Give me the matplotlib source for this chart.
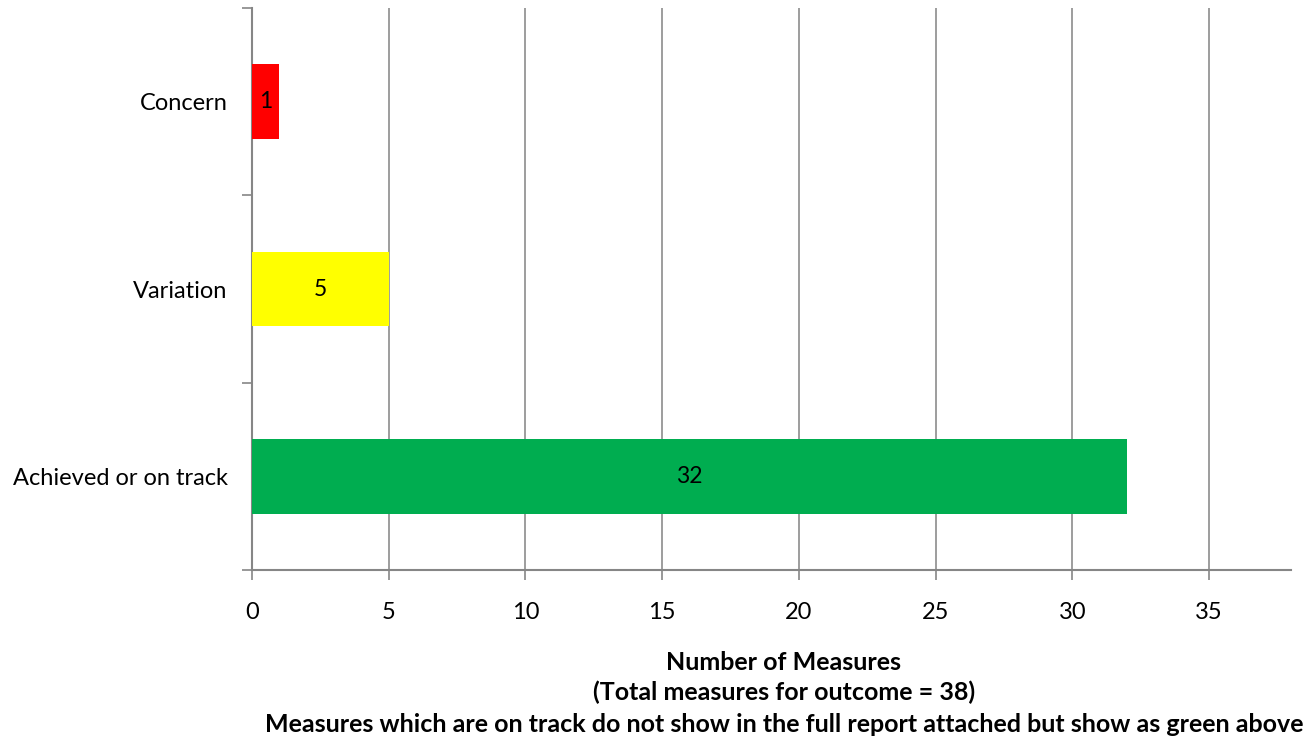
import matplotlib.pyplot as plt
import numpy as np

plt.rcParams['font.family'] = ['Lato', 'DejaVu Sans']

categories = ['Achieved or on track', 'Variation', 'Concern']
counts = [32, 5, 1]
colours = ['#00AD50', '#FFFF00', '#FF0000']
xticks = [0, 5, 10, 15, 20, 25, 30, 35]
xlabel_lines = ['Number of Measures',
                '(Total measures for outcome = 38)',
                'Measures which are on track do not show in the full report attached but show as green above']

fig = plt.figure(figsize=(13.14, 7.43), dpi=100)
ax = fig.add_axes([252/1314, 1 - 570/743, (1291 - 252)/1314, (570 - 8)/743])

y = np.arange(len(categories))
bars = ax.barh(y, counts, height=0.4, color=colours, zorder=3)
for b, v in zip(bars, counts):
    ax.text(v / 2, b.get_y() + b.get_height() / 2, str(v),
            ha='center', va='center', fontsize=16.5, color='black', zorder=4)

ax.set_xlim(0, 38)
ax.set_ylim(-0.5, len(categories) - 0.5)
ax.set_xticks(xticks)
ax.set_xticklabels([str(t) for t in xticks], fontsize=17)
ax.xaxis.grid(True, color='#8c8c8c', linewidth=1.2, zorder=0)
ax.set_axisbelow(True)

# category labels sit between boundary tick marks
ax.set_yticks(np.arange(-0.5, len(categories), 1.0))
ax.set_yticklabels([])
ax.set_yticks(y, minor=True)
ax.set_yticklabels(categories, minor=True, fontsize=17)
ax.tick_params(axis='y', which='minor', length=0, pad=17.5)
ax.tick_params(axis='y', which='major', length=7, color='#868686', width=1.2)
ax.tick_params(axis='x', length=7, color='#868686', width=1.2, pad=16)

for s in ['top', 'right']:
    ax.spines[s].set_visible(False)
for s in ['left', 'bottom']:
    ax.spines[s].set_color('#868686')
    ax.spines[s].set_linewidth(1.5)

for line, ypix in zip(xlabel_lines, [662, 692, 724]):
    fig.text(784/1314, 1 - ypix/743, line, ha='center', va='center',
             fontsize=18, fontweight='bold')

fig.savefig('out.png', dpi=100)
